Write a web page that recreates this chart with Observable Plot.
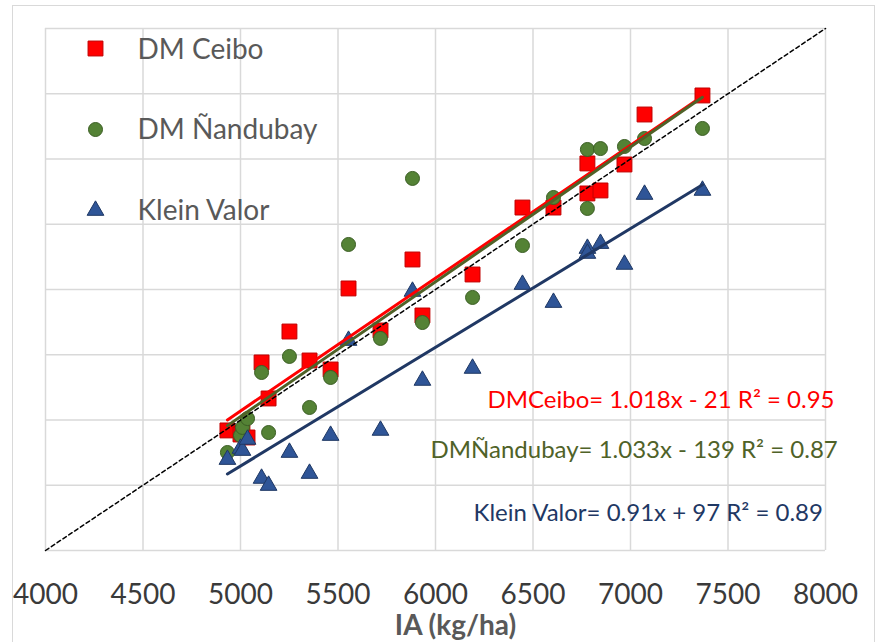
<!DOCTYPE html>
<html>
<head>
<meta charset="utf-8">
<script src="https://cdn.jsdelivr.net/npm/d3@7"></script>
<script src="https://cdn.jsdelivr.net/npm/@observablehq/plot@0.6"></script>
<style>
  html, body { margin: 0; padding: 0; background: #fff; overflow: hidden; }
  #wrap { position: relative; width: 879px; height: 642px; }
  #frame { position: absolute; left: 12px; top: 5px; width: 863px; height: 700px;
           border: 1.5px solid #d9d9d9; box-sizing: border-box; pointer-events: none; }
  #chart { position: absolute; left: 0; top: 0; }
</style>
</head>
<body>
<div id="wrap">
  <div id="frame"></div>
  <div id="chart"></div>
</div>
<script>
// ---- data ----
const IA = [4933, 5000, 5010, 5036, 5108, 5144, 5251, 5354, 5462, 5554, 5718,
            5882, 5933, 6190, 6446, 6605, 6779, 6779, 6846, 6969, 7072, 7369];
const dmCeibo = [4920, 4889, 4904, 4866, 5441, 5165, 5678, 5456, 5387, 6008, 5686,
                 6230, 5801, 6115, 6628, 6628, 6966, 6736, 6759, 6958, 7341, 7487];
const dmNandubay = [4751, 4881, 4943, 5011, 5364, 4904, 5487, 5096, 5326, 6345, 5625,
                    6851, 5747, 5939, 6337, 6705, 7073, 6621, 7080, 7096, 7157, 7234];
const kleinValor = [4697, 4782, 4766, 4851, 4552, 4498, 4751, 4590, 4881, 5609, 4920,
                    5985, 5303, 5395, 6038, 5900, 6314, 6276, 6352, 6192, 6728, 6759];

const seriesNames = ["DM Ceibo", "DM Ñandubay", "Klein Valor"];
const slopes = [1.018, 1.033, 0.91];
const intercepts = [-21, -139, 97];
const equationLabels = ["DMCeibo= 1.018x - 21 R² = 0.95",
                        "DMÑandubay= 1.033x - 139 R² = 0.87",
                        "Klein Valor= 0.91x + 97 R² = 0.89"];
const xTicks = [4000, 4500, 5000, 5500, 6000, 6500, 7000, 7500, 8000];
const yTicks = [4000, 4500, 5000, 5500, 6000, 6500, 7000, 7500, 8000];
const xTitle = "IA (kg/ha)";

// ---- styles ----
const styles = [
  {symbol: "square",   r: 8.4, fill: "#FF0000", stroke: "#C00000", line: "#FF0000"},
  {symbol: "circle",   r: 7.0, fill: "#548235", stroke: "#3B5E24", line: "#4F6228"},
  {symbol: "triangle", r: 6.2, fill: "#2F5597", stroke: "#1F3864", line: "#203864"}
];
const eqColors = ["#FF0000", "#4F6228", "#1F3864"];
const FONT = "Lato, 'Open Sans', sans-serif";

const seriesValues = [dmCeibo, dmNandubay, kleinValor];
const rows = seriesValues.map(vals => IA.map((x, i) => ({x, y: vals[i]})));
const xMin = d3.min(IA), xMax = d3.max(IA);
const trend = slopes.map((m, k) => [xMin, xMax].map(x => ({x, y: m * x + intercepts[k]})));
const diag = [{v: xTicks[0]}, {v: xTicks[xTicks.length - 1]}];

const legendDy = [20, 101, 182];
const legendTextDy = [22, 102, 183];
const eqDx = [442, 385, 428];
const eqDy = [372, 422, 485];

const marks = [
  Plot.gridX(xTicks, {stroke: "#d9d9d9", strokeOpacity: 1, strokeWidth: 1.5}),
  Plot.gridY(yTicks, {stroke: "#d9d9d9", strokeOpacity: 1, strokeWidth: 1.5}),
  Plot.axisX(xTicks, {tickSize: 0, tickPadding: 34, fontSize: 28, fill: "#3a3a3a",
                      tickFormat: d => String(d), label: null}),
];

// points
rows.forEach((r, k) => {
  const s = styles[k];
  marks.push(Plot.dot(r, {x: "x", y: "y", symbol: s.symbol, r: s.r, fill: s.fill,
                          stroke: s.stroke, strokeWidth: 1}));
});
// 1:1 line
marks.push(Plot.line(diag, {x: "v", y: "v", stroke: "#000", strokeWidth: 1.5, strokeDasharray: "4,3"}));
// trend lines
trend.forEach((t, k) => {
  marks.push(Plot.line(t, {x: "x", y: "y", stroke: styles[k].line, strokeWidth: 3}));
});
// legend
seriesNames.forEach((name, k) => {
  const s = styles[k];
  marks.push(Plot.dot([name], {frameAnchor: "top-left", dx: 50, dy: legendDy[k], symbol: s.symbol,
                               r: s.r, fill: s.fill, stroke: s.stroke, strokeWidth: 1}));
  marks.push(Plot.text([name], {frameAnchor: "top-left", dx: 92, dy: legendTextDy[k], text: d => d,
                                textAnchor: "start", lineAnchor: "middle", fontSize: 28, fill: "#595959"}));
});
// equations
equationLabels.forEach((lab, k) => {
  marks.push(Plot.text([lab], {frameAnchor: "top-left", dx: eqDx[k], dy: eqDy[k], text: d => d,
                               textAnchor: "start", lineAnchor: "middle", fontSize: 24, fill: eqColors[k]}));
});
// x title
marks.push(Plot.text([xTitle], {frameAnchor: "bottom", dx: 20, dy: 76, text: d => d,
                                textAnchor: "middle", lineAnchor: "middle", fontSize: 28,
                                fontWeight: "bold", fill: "#595959"}));

const chart = Plot.plot({
  width: 879,
  height: 642,
  marginLeft: 45,
  marginRight: 54,
  marginTop: 28,
  marginBottom: 92,
  style: {fontFamily: FONT, background: "transparent", overflow: "visible"},
  x: {domain: [4000, 8000], axis: null},
  y: {domain: [4000, 8000], axis: null},
  marks
});
document.getElementById("chart").appendChild(chart);
</script>
</body>
</html>
